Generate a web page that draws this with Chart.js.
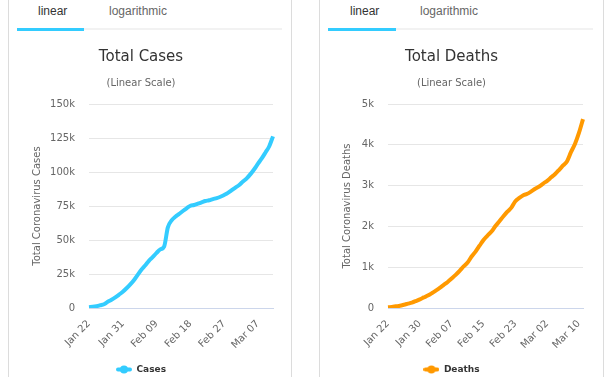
<!DOCTYPE html>
<html>
<head>
<meta charset="utf-8">
<script src="https://cdn.jsdelivr.net/npm/chart.js@4/dist/chart.umd.min.js"></script>
<style>
    body { margin: 0; background: #fff; width: 609px; height: 384px; overflow: hidden; position: relative; }
    .panel { position: absolute; top: 0; height: 377px; box-sizing: border-box; border-left: 1px solid #dcdcdc; border-right: 1px solid #dcdcdc; }
    .tab { position: absolute; top: 4px; font: 12px "Liberation Sans", Arial, sans-serif; line-height: 14px; color: #666; }
    .tab.active { color: #333; }
    .rule { position: absolute; top: 28px; height: 2px; background: #f2f2f2; }
    .bar { position: absolute; top: 28px; height: 3px; background: #33ccff; }
    canvas { position: absolute; }
</style>
</head>
<body>
<div class="panel" style="left:8px;width:284px"></div>
<div class="panel" style="left:319px;width:285px"></div>

<div class="rule" style="left:17px;width:265px"></div>
<div class="bar" style="left:17px;width:67px"></div>
<span class="tab active" style="left:38px">linear</span>
<span class="tab" style="left:109px">logarithmic</span>

<div class="rule" style="left:328px;width:265px"></div>
<div class="bar" style="left:328px;width:68px"></div>
<span class="tab active" style="left:350px">linear</span>
<span class="tab" style="left:420px">logarithmic</span>

<div style="position:absolute;left:9px;top:36px;width:281px;height:348px">
    <canvas id="casesChart"></canvas>
</div>
<div style="position:absolute;left:320px;top:36px;width:282px;height:348px">
    <canvas id="deathsChart"></canvas>
</div>

<script>
// dates shown on the x axis (Jan 22 - Mar 11)
const dates = [
    "Jan 22", "Jan 23", "Jan 24", "Jan 25", "Jan 26", "Jan 27", "Jan 28", "Jan 29", "Jan 30", "Jan 31",
    "Feb 01", "Feb 02", "Feb 03", "Feb 04", "Feb 05", "Feb 06", "Feb 07", "Feb 08", "Feb 09", "Feb 10",
    "Feb 11", "Feb 12", "Feb 13", "Feb 14", "Feb 15", "Feb 16", "Feb 17", "Feb 18", "Feb 19", "Feb 20",
    "Feb 21", "Feb 22", "Feb 23", "Feb 24", "Feb 25", "Feb 26", "Feb 27", "Feb 28", "Feb 29",
    "Mar 01", "Mar 02", "Mar 03", "Mar 04", "Mar 05", "Mar 06", "Mar 07", "Mar 08", "Mar 09", "Mar 10", "Mar 11"
];

const totalCases = [
    580, 845, 1317, 2015, 2800, 4581, 6058, 7813, 9823, 11950,
    14553, 17391, 20630, 24545, 28266, 31439, 34876, 37552, 40553, 43099,
    45134, 59287, 64438, 67100, 69197, 71329, 73332, 75184, 75700, 76677,
    77673, 78651, 79205, 80087, 80828, 81820, 83112, 84615, 86604,
    88585, 90443, 93016, 95314, 98425, 102050, 106099, 109991, 114381, 118948, 126214
];

const totalDeaths = [
    17, 25, 41, 56, 80, 106, 132, 170, 213, 259,
    304, 362, 426, 492, 565, 638, 724, 813, 910, 1018,
    1115, 1261, 1383, 1526, 1669, 1775, 1873, 2009, 2126, 2247,
    2360, 2460, 2618, 2699, 2763, 2800, 2858, 2923, 2977,
    3050, 3117, 3202, 3285, 3387, 3494, 3599, 3827, 4025, 4296, 4628
];

const tickFont = { family: "DejaVu Sans", size: 10 };

// legend symbol: short thick line with a dot in the middle
function legendSymbol(color) {
    const c = document.createElement("canvas");
    c.width = 16;
    c.height = 9;
    const g = c.getContext("2d");
    g.strokeStyle = color;
    g.lineWidth = 4;
    g.lineCap = "round";
    g.beginPath();
    g.moveTo(2, 4.5);
    g.lineTo(14, 4.5);
    g.stroke();
    g.fillStyle = color;
    g.beginPath();
    g.arc(8, 4.5, 4, 0, Math.PI * 2);
    g.fill();
    return c;
}

function makeChart(id, opts) {
    return new Chart(document.getElementById(id).getContext("2d"), {
        type: "line",
        data: {
            labels: dates,
            datasets: [{
                label: opts.label,
                data: opts.data,
                borderColor: opts.color,
                backgroundColor: opts.color,
                borderWidth: 4,
                pointRadius: 0,
                cubicInterpolationMode: "monotone",
                fill: false,
            }],
        },
        options: {
            responsive: true,
            maintainAspectRatio: false,
            animation: false,
            layout: { padding: { right: opts.padRight, bottom: 0 } },
            plugins: {
                title: {
                    display: true,
                    text: opts.title,
                    color: "#333",
                    font: { family: "DejaVu Sans", size: 15, weight: "normal" },
                    padding: { top: 12, bottom: 8 },
                },
                subtitle: {
                    display: true,
                    text: "(Linear Scale)",
                    color: "#666",
                    font: { family: "DejaVu Sans", size: 10 },
                    padding: { top: 3, bottom: 15 },
                },
                legend: {
                    display: true,
                    position: "bottom",
                    labels: {
                        usePointStyle: true,
                        pointStyle: legendSymbol(opts.color),
                        pointStyleWidth: 16,
                        padding: 9,
                        color: "#333",
                        font: { family: "DejaVu Sans", size: 9, weight: "bold" },
                    },
                },
                tooltip: { enabled: false },
            },
            scales: {
                x: {
                    offset: false,
                    grid: { display: false },
                    border: { display: true, color: "#ccd6eb", width: 1 },
                    ticks: {
                        autoSkip: false,
                        minRotation: 45,
                        maxRotation: 45,
                        padding: 2,
                        color: "#666",
                        font: tickFont,
                        callback: function (v, i) {
                            return i % opts.step === 0 ? dates[i] : "";
                        },
                    },
                    afterFit: function (s) { s.height = 48; },
                },
                y: {
                    min: 0,
                    max: opts.max,
                    grid: { color: "#e6e6e6", drawTicks: false },
                    border: { display: false },
                    ticks: {
                        stepSize: opts.stepSize,
                        padding: 14,
                        color: "#666",
                        font: tickFont,
                        callback: function (v) {
                            return v === 0 ? "0" : (v / 1000) + "k";
                        },
                    },
                    title: {
                        display: true,
                        text: opts.axisTitle,
                        color: "#666",
                        font: tickFont,
                        padding: { top: opts.titlePad, bottom: 0 },
                    },
                    afterFit: function (s) { s.width = opts.yWidth; },
                },
            },
        },
    });
}

window.casesChart = makeChart("casesChart", {
    label: "Cases",
    data: totalCases,
    color: "#33ccff",
    title: "Total Cases",
    axisTitle: "Total Coronavirus Cases",
    max: 150000,
    stepSize: 25000,
    step: 9,
    yWidth: 80,
    titlePad: 22,
    padRight: 17,
});

window.deathsChart = makeChart("deathsChart", {
    label: "Deaths",
    data: totalDeaths,
    color: "#ff9900",
    title: "Total Deaths",
    axisTitle: "Total Coronavirus Deaths",
    max: 5000,
    stepSize: 1000,
    step: 8,
    yWidth: 68,
    titlePad: 21.5,
    padRight: 19,
});
</script>
</body>
</html>
